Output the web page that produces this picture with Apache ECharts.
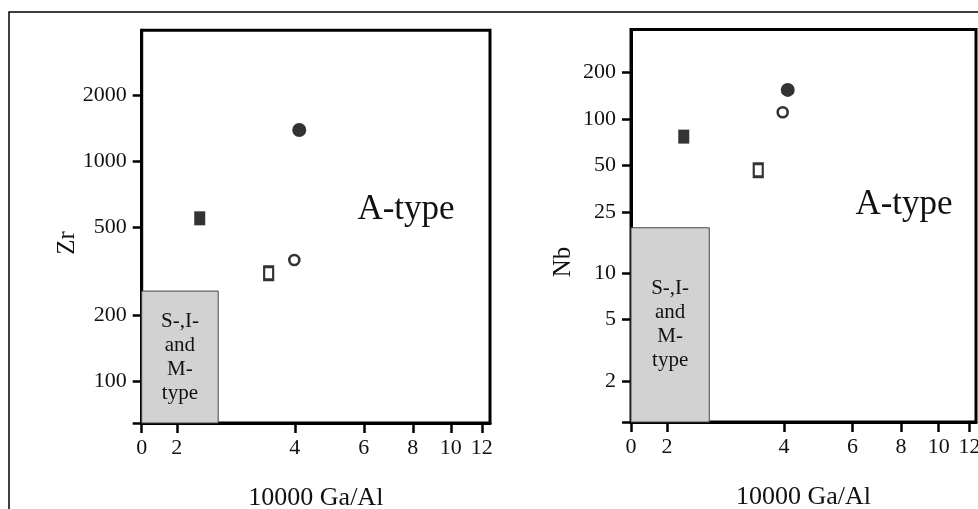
<!DOCTYPE html>
<html>
<head>
<meta charset="utf-8">
<script src="https://cdn.jsdelivr.net/npm/echarts@6/dist/echarts.min.js"></script>
<style>
  html, body { margin: 0; padding: 0; background: #fff; }
  #chart { width: 978px; height: 509px; }
</style>
</head>
<body>
<div id="chart"></div>
<script>
// Samples: 10000 Ga/Al against Zr (left) and Nb (right)
const gaAlZr = [4.105, 2.288, 3.43, 3.988];
const zr = [1390, 551, 310, 356];
const gaAlNb = [4.09, 2.21, 3.435, 3.97];
const nb = [154.5, 76.9, 46.5, 110.7];

// Field of S-, I- and M-type granites (upper right corner of each box)
const sigmaGaAl = [2.55, 2.57];
const sigmaZr = 257;
const sigmaNb = 19.7;

// Axis ranges (log scales)
const gaAlRangeZr = [1.627, 12.59];
const gaAlRangeNb = [1.617, 12.47];
const zrRange = [64.5, 3953];
const nbRange = [1.082, 381];

// Tick labels; "0" sits at the start of the Ga/Al axis
const gaAlTicks = [0, 2, 4, 6, 8, 10, 12];
const zrTicks = [100, 200, 500, 1000, 2000];
const nbTicks = [2, 5, 10, 25, 50, 100, 200];

// Marker style per sample: filled circle, filled square, open square, open circle
const markerStyles = [
  { symbol: 'circle', symbolSize: 14, itemStyle: { color: '#000' } },
  { symbol: 'rect', symbolSize: [11, 14], itemStyle: { color: '#000' } },
  { symbol: 'rect', symbolSize: [9, 13], itemStyle: { color: '#fff', borderColor: '#000', borderWidth: 2.6 } },
  { symbol: 'circle', symbolSize: 10, itemStyle: { color: '#fff', borderColor: '#000', borderWidth: 2.6 } }
];

const FONT = '"Liberation Serif", "Times New Roman", "DejaVu Serif", serif';
const INK = '#111';

function gaAlAxis(gridIndex, range) {
  const tickVals = gaAlTicks.map(t => (t === 0 ? range[0] : t));
  return {
    type: 'log', gridIndex, min: range[0], max: range[1],
    splitLine: { show: false }, minorTick: { show: false },
    axisLine: { show: true, lineStyle: { color: '#000', width: 3 } },
    axisTick: { show: true, length: 10, inside: false, customValues: tickVals, lineStyle: { color: '#000', width: 2.5 } },
    axisLabel: {
      show: true, customValues: tickVals, margin: 14,
      color: INK, fontFamily: FONT, fontSize: 22,
      formatter: v => (v < 1.9 ? '0' : String(Math.round(v)))
    },
    name: '10000 Ga/Al', nameLocation: 'middle', nameGap: 62,
    nameTextStyle: { color: INK, fontFamily: FONT, fontSize: 26 }
  };
}

function valueAxis(gridIndex, range, ticks) {
  return {
    type: 'log', gridIndex, min: range[0], max: range[1],
    splitLine: { show: false }, minorTick: { show: false },
    axisLine: { show: true, lineStyle: { color: '#000', width: 3 } },
    axisTick: { show: true, length: 9, customValues: [range[0]].concat(ticks), lineStyle: { color: '#000', width: 2.5 } },
    axisLabel: {
      show: true, customValues: ticks, margin: 15,
      color: INK, fontFamily: FONT, fontSize: 22,
      formatter: v => String(Math.round(v))
    }
  };
}

function sampleSeries(xIndex, xs, ys) {
  return {
    type: 'scatter', xAxisIndex: xIndex, yAxisIndex: xIndex, z: 5,
    data: xs.map((x, i) => Object.assign({ value: [x, ys[i]] }, markerStyles[i]))
  };
}

function fieldSeries(xIndex, xMin, yMin, xMax, yMax) {
  return {
    type: 'scatter', xAxisIndex: xIndex, yAxisIndex: xIndex, data: [], silent: true,
    markArea: {
      silent: true,
      itemStyle: { color: '#d2d2d2', borderColor: '#444', borderWidth: 1 },
      label: {
        show: true, position: 'inside', formatter: 'S-,I-\nand\nM-\ntype',
        color: INK, fontFamily: FONT, fontSize: 21, lineHeight: 24, align: 'center'
      },
      data: [[{ coord: [xMin, yMin] }, { coord: [xMax, yMax] }]]
    }
  };
}

const chart = echarts.init(document.getElementById('chart'), null, { renderer: 'canvas' });

chart.setOption({
  animation: false,
  backgroundColor: '#fff',
  grid: [
    { left: 141.7, top: 30.3, width: 348.3, height: 392.7, outerBoundsMode: 'none', containLabel: false, show: true, borderColor: '#000', borderWidth: 3, backgroundColor: 'transparent' },
    { left: 631, top: 29.5, width: 345, height: 392.5, outerBoundsMode: 'none', containLabel: false, show: true, borderColor: '#000', borderWidth: 3, backgroundColor: 'transparent' }
  ],
  xAxis: [gaAlAxis(0, gaAlRangeZr), gaAlAxis(1, gaAlRangeNb)],
  yAxis: [valueAxis(0, zrRange, zrTicks), valueAxis(1, nbRange, nbTicks)],
  series: [
    fieldSeries(0, gaAlRangeZr[0], zrRange[0], sigmaGaAl[0], sigmaZr),
    fieldSeries(1, gaAlRangeNb[0], nbRange[0], sigmaGaAl[1], sigmaNb),
    sampleSeries(0, gaAlZr, zr),
    sampleSeries(1, gaAlNb, nb)
  ],
  graphic: [
    { type: 'rect', shape: { x: 9, y: 12, width: 990, height: 520 }, style: { fill: 'none', stroke: '#000', lineWidth: 1.5 }, silent: true, z: 0 },
    { type: 'text', x: 67, y: 243, rotation: Math.PI / 2, style: { text: 'Zr', fill: INK, font: '25px ' + FONT, textAlign: 'center', textVerticalAlign: 'middle' } },
    { type: 'text', x: 563, y: 262, rotation: Math.PI / 2, style: { text: 'Nb', fill: INK, font: '25px ' + FONT, textAlign: 'center', textVerticalAlign: 'middle' } },
    { type: 'text', x: 406, y: 210, style: { text: 'A-type', fill: INK, font: '35px ' + FONT, textAlign: 'center', textVerticalAlign: 'middle' } },
    { type: 'text', x: 904, y: 205, style: { text: 'A-type', fill: INK, font: '35px ' + FONT, textAlign: 'center', textVerticalAlign: 'middle' } }
  ]
});
</script>
</body>
</html>
